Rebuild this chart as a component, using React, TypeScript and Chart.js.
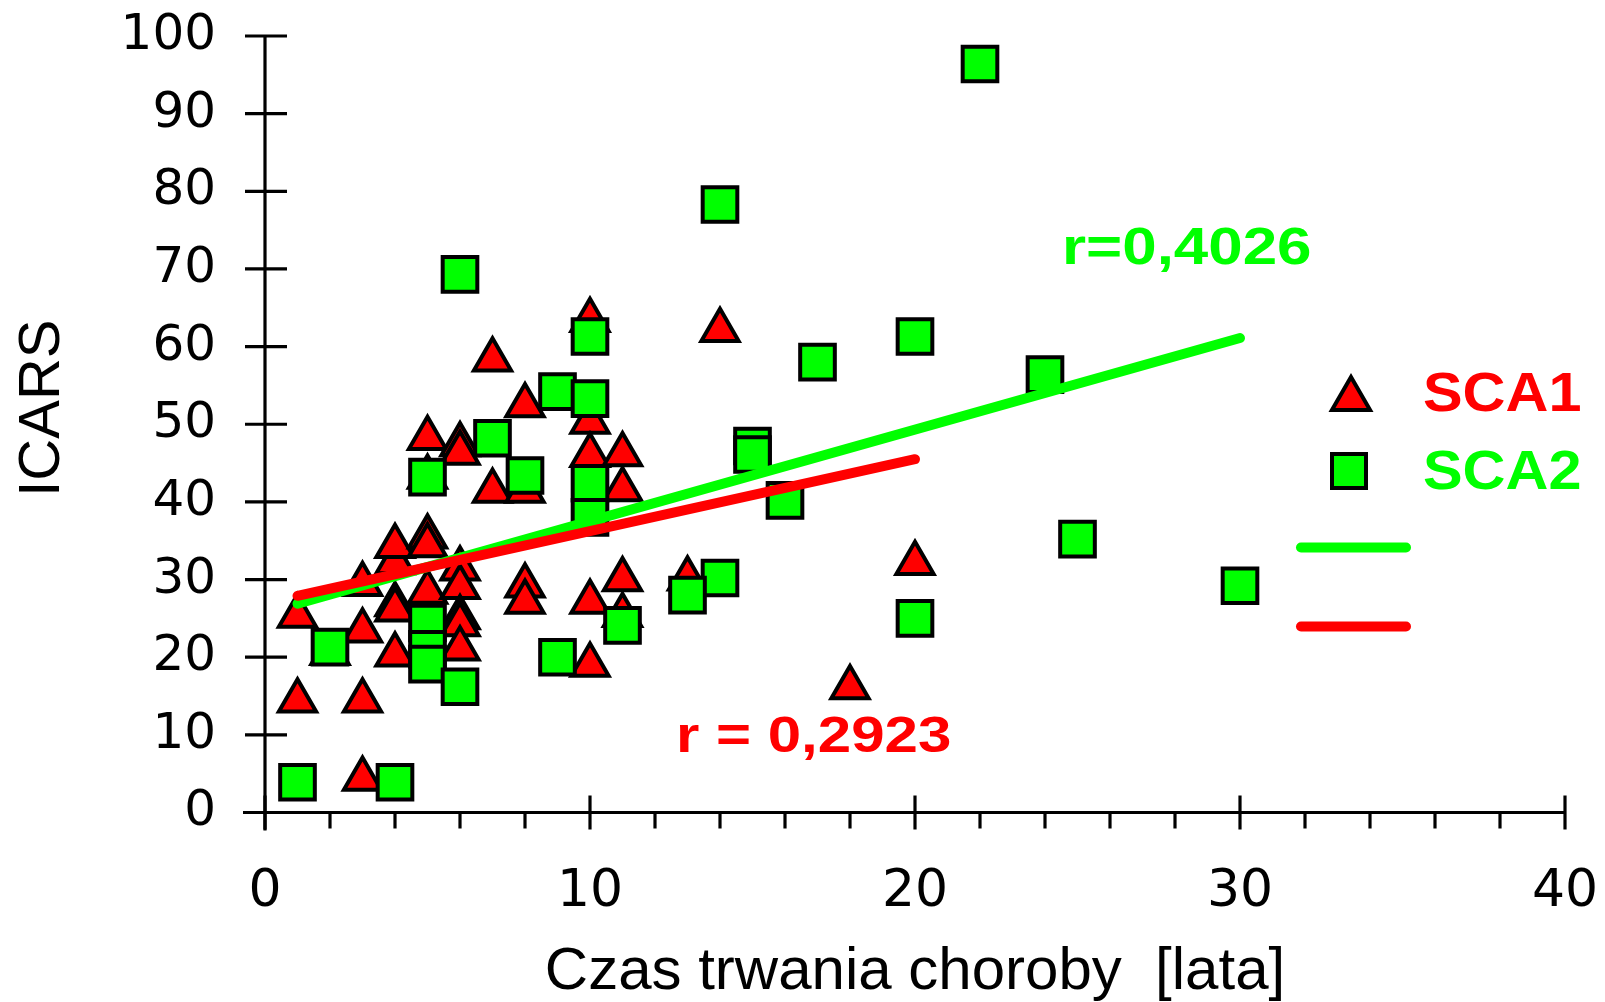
import React, { useEffect, useRef } from "react";
import { Chart, registerables } from "chart.js";

Chart.register(...registerables);

// ---------------- DATA ----------------
// SCA1 (red triangles): disease duration [years] vs ICARS
const sca1X = [1, 1, 2, 3, 3, 3, 3, 4, 4, 4, 4, 4, 5, 5, 5, 5, 5, 6, 6, 6, 6, 6, 6, 6, 7, 7, 8, 8, 8, 8, 10, 10, 10, 10, 10, 11, 11, 11, 11, 13, 14, 18, 20];
const sca1Y = [25.3, 14.4, 20.5, 29.4, 23.4, 14.4, 4.3, 32.2, 34.3, 26.8, 26.1, 20.3, 48.2, 43.2, 35.5, 34.4, 28.4, 47.4, 46.3, 31.4, 29.0, 25.1, 24.2, 21.1, 58.3, 41.4, 52.4, 41.4, 29.2, 27.1, 63.4, 50.3, 46.0, 27.1, 19.0, 46.1, 41.6, 30.0, 25.4, 30.1, 62.1, 16.1, 32.1];

// SCA2 (green squares)
const sca2X = [1, 2, 4, 5, 5, 5, 5, 6, 6, 7, 8, 9, 9, 10, 10, 10, 10, 11, 14, 13, 14, 15, 15, 16, 17, 20, 20, 22, 24, 25, 30];
const sca2Y = [3.9, 21.3, 3.9, 43.2, 24.4, 21.0, 19.1, 69.3, 16.2, 48.2, 43.4, 54.2, 20.0, 61.3, 53.3, 42.4, 38.0, 24.1, 30.2, 28.0, 78.3, 47.2, 46.1, 40.2, 58.0, 61.3, 25.0, 96.4, 56.4, 35.2, 29.2];

// Regression lines (end points)
const fitSca2X = [1, 30];
const fitSca2Y = [26.9, 61.1];
const fitSca1X = [1, 20];
const fitSca1Y = [27.9, 45.5];

// Labels
const seriesNames = ["SCA1", "SCA2"];
const rSca2Label = "r=0,4026";
const rSca1Label = "r = 0,2923";
const xTitle = "Czas trwania choroby  [lata]";
const yTitle = "ICARS";

// Axes
const xMin = 0;
const xMax = 40;
const xMajorStep = 10;
const xMinorStep = 2;
const yMin = 0;
const yMax = 100;
const yStep = 10;

// ---------------- STYLE ----------------
const RED = "#ff0000";
const GREEN = "#00ff00";
const W = 1605;
const H = 1002;

const toPoints = (xs: number[], ys: number[]) => xs.map((x, i) => ({ x, y: ys[i] }));

function stretchedText(
  ctx: CanvasRenderingContext2D,
  text: string,
  x: number,
  baseline: number,
  font: string,
  color: string,
  sx: number
) {
  ctx.save();
  ctx.font = font;
  ctx.fillStyle = color;
  ctx.textAlign = "left";
  ctx.textBaseline = "alphabetic";
  ctx.translate(x, baseline);
  ctx.scale(sx, 1);
  ctx.fillText(text, 0, 0);
  ctx.restore();
}

const axesPlugin = {
  id: "crossAxes",
  beforeDatasetsDraw(chart: any) {
    const { ctx } = chart;
    const xs = chart.scales.x;
    const ys = chart.scales.y;
    const x0 = xs.getPixelForValue(xMin);
    const y0 = ys.getPixelForValue(yMin);
    const line = (a: number, b: number, c: number, d: number) => {
      ctx.beginPath();
      ctx.moveTo(a, b);
      ctx.lineTo(c, d);
      ctx.stroke();
    };
    ctx.save();
    ctx.strokeStyle = "#000";
    ctx.lineWidth = 3.2;
    ctx.lineCap = "butt";
    line(x0, ys.getPixelForValue(yMax), x0, y0 + 18);
    line(x0 - 22, y0, xs.getPixelForValue(xMax), y0);
    for (let v = yMin; v <= yMax; v += yStep) {
      const py = ys.getPixelForValue(v);
      line(x0 - 20, py, x0 + 22, py);
    }
    for (let v = xMin; v <= xMax; v += xMinorStep) {
      const px = xs.getPixelForValue(v);
      if (v % xMajorStep === 0) line(px, y0 - 17, px, y0 + 17);
      else line(px, y0, px, y0 + 16);
    }
    ctx.restore();
  },
};

const legendPlugin = {
  id: "customLegend",
  afterDatasetsDraw(chart: any) {
    const { ctx } = chart;
    ctx.save();
    ctx.lineWidth = 4;
    ctx.strokeStyle = "#000";
    ctx.lineJoin = "miter";
    // triangle marker
    const tr = 22;
    const tx = 1351;
    const ty = 399;
    ctx.beginPath();
    ctx.moveTo(tx, ty - tr);
    ctx.lineTo(tx + tr * Math.sin((2 * Math.PI) / 3), ty + tr / 2);
    ctx.lineTo(tx - tr * Math.sin((2 * Math.PI) / 3), ty + tr / 2);
    ctx.closePath();
    ctx.fillStyle = RED;
    ctx.fill();
    ctx.stroke();
    // square marker
    const side = 34;
    ctx.beginPath();
    ctx.rect(1349 - side / 2, 471 - side / 2, side, side);
    ctx.fillStyle = GREEN;
    ctx.fill();
    ctx.stroke();
    // line samples
    ctx.lineCap = "round";
    ctx.lineWidth = 10;
    ctx.strokeStyle = GREEN;
    ctx.beginPath();
    ctx.moveTo(1301, 547.5);
    ctx.lineTo(1406, 547.5);
    ctx.stroke();
    ctx.strokeStyle = RED;
    ctx.beginPath();
    ctx.moveTo(1301, 626.5);
    ctx.lineTo(1406, 626.5);
    ctx.stroke();
    ctx.restore();

    const bold = (s: number) => `bold ${s}px "Liberation Sans", Arial, sans-serif`;
    stretchedText(ctx, seriesNames[0], 1423, 410.5, bold(55), RED, 1.08);
    stretchedText(ctx, seriesNames[1], 1423, 489, bold(55), GREEN, 1.08);
    stretchedText(ctx, rSca2Label, 1062, 264, bold(52), GREEN, 1.19);
    stretchedText(ctx, rSca1Label, 676, 752, bold(50), RED, 1.2);
  },
};

export default function App() {
  const canvasRef = useRef<HTMLCanvasElement | null>(null);

  useEffect(() => {
    document.body.style.margin = "0";
    const canvas = canvasRef.current;
    if (!canvas) return;
    const yTickFont = { family: '"DejaVu Sans", Verdana, sans-serif', size: 50 };
    const xTickFont = { family: '"DejaVu Sans", Verdana, sans-serif', size: 52 };
    const yTitleFont = { family: '"Liberation Sans", Arial, sans-serif', size: 58, lineHeight: 1 };
    const xTitleFont = { family: '"Liberation Sans", Arial, sans-serif', size: 60, lineHeight: 1 };
    const chart = new Chart(canvas, {
      type: "scatter",
      data: {
        datasets: [
          {
            label: "SCA1 fit",
            data: toPoints(fitSca1X, fitSca1Y),
            showLine: true,
            borderColor: RED,
            borderWidth: 10,
            borderCapStyle: "round",
            pointRadius: 0,
            order: 0,
          },
          {
            label: "SCA2 fit",
            data: toPoints(fitSca2X, fitSca2Y),
            showLine: true,
            borderColor: GREEN,
            borderWidth: 10,
            borderCapStyle: "round",
            pointRadius: 0,
            order: 1,
          },
          {
            label: seriesNames[1],
            data: toPoints(sca2X, sca2Y),
            pointStyle: "rect",
            pointRadius: 24.5,
            pointHoverRadius: 24.5,
            backgroundColor: GREEN,
            borderColor: "#000",
            borderWidth: 4,
            order: 2,
          },
          {
            label: seriesNames[0],
            data: toPoints(sca1X, sca1Y),
            pointStyle: "triangle",
            pointRadius: 21.5,
            pointHoverRadius: 21.5,
            backgroundColor: RED,
            borderColor: "#000",
            borderWidth: 4,
            order: 3,
          },
        ],
      },
      options: {
        responsive: false,
        animation: false,
        devicePixelRatio: 1,
        events: [],
        clip: false as any,
        layout: { padding: { top: 36, right: 40, left: 0, bottom: 0 } },
        plugins: { legend: { display: false }, tooltip: { enabled: false } },
        scales: {
          x: {
            type: "linear",
            min: xMin,
            max: xMax,
            grid: { display: false, drawTicks: true, tickLength: 49 },
            border: { display: false },
            ticks: { stepSize: xMajorStep, font: xTickFont, color: "#000", padding: 0, maxRotation: 0, autoSkip: false },
            title: { display: true, text: xTitle, font: xTitleFont, color: "#000", padding: { top: 0, bottom: 0 } },
            afterFit: (s: any) => {
              s.height = 189.5;
              s.paddingLeft = 0;
              s.paddingRight = 0;
            },
          },
          y: {
            type: "linear",
            min: yMin,
            max: yMax,
            grid: { display: false, drawTicks: true, tickLength: 49 },
            border: { display: false },
            ticks: { stepSize: yStep, font: yTickFont, color: "#000", padding: 0 },
            title: { display: true, text: "  " + yTitle, font: yTitleFont, color: "#000", padding: { top: 14, bottom: 0 } },
            afterFit: (s: any) => {
              s.width = 265;
              s.paddingTop = 0;
              s.paddingBottom = 0;
            },
          },
        },
      },
      plugins: [axesPlugin, legendPlugin],
    } as any);
    return () => chart.destroy();
  }, []);

  return (
    <div style={{ width: W, height: H, background: "#fff" }}>
      <canvas ref={canvasRef} width={W} height={H} />
    </div>
  );
}
